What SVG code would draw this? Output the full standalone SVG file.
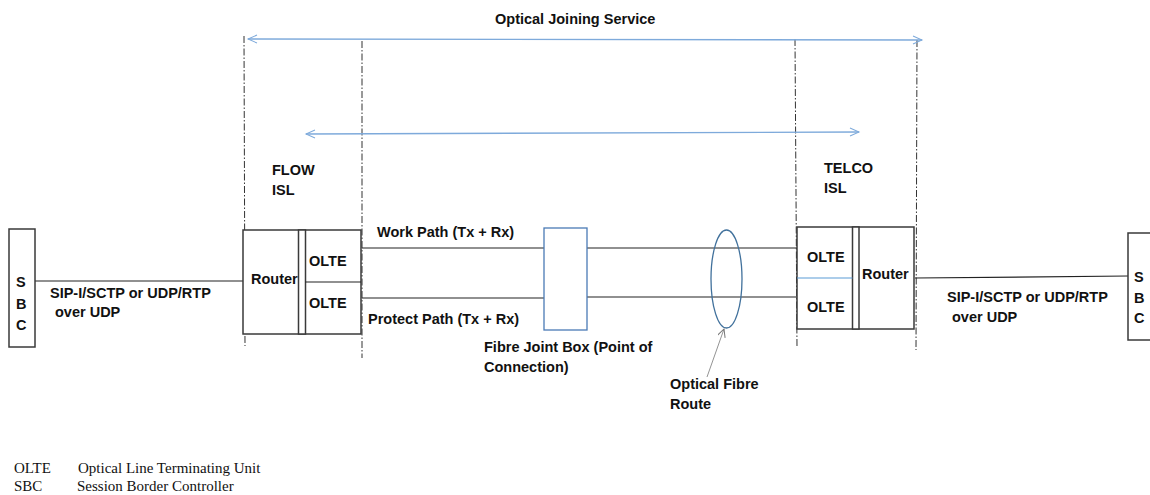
<svg xmlns="http://www.w3.org/2000/svg" width="1150" height="495" viewBox="0 0 1150 495">
<style>
.t{font-family:"Liberation Sans",Arial,sans-serif;font-weight:bold;font-size:14.5px;fill:#111}
.lg{font-family:"Liberation Serif","Times New Roman",serif;font-size:15px;fill:#111}
.box{fill:#fff;stroke:#3a3a3a;stroke-width:1.5}
.ln{stroke:#222;stroke-width:1.2;fill:none}
.dd{stroke:#333;stroke-width:1;stroke-dasharray:7,2,1.5,2;fill:none}
.blue{stroke:#7eaadb;stroke-width:1.3;fill:none}
</style>
<defs>
<marker id="ob" markerWidth="12" markerHeight="12" refX="10" refY="5" orient="auto-start-reverse" markerUnits="userSpaceOnUse">
<polyline points="1,1 10,5 1,9" fill="none" stroke="#7eaadb" stroke-width="1"/>
</marker>
<marker id="og" markerWidth="10" markerHeight="10" refX="8" refY="4" orient="auto" markerUnits="userSpaceOnUse">
<polyline points="0,0 8,4 0,8" fill="none" stroke="#777" stroke-width="1"/>
</marker>
</defs>

<text class="t" x="495" y="24">Optical Joining Service</text>

<g id="boundaries">
<line class="dd" x1="244" y1="36" x2="245" y2="346"/>
<line class="dd" x1="362" y1="41" x2="362" y2="358"/>
<line class="dd" x1="795" y1="39" x2="797" y2="348"/>
<line class="dd" x1="917" y1="40" x2="916" y2="350"/>
</g>

<g id="connectors">
<line class="blue" x1="248" y1="39" x2="922" y2="40" marker-start="url(#ob)" marker-end="url(#ob)"/>
<line class="blue" x1="306" y1="134" x2="859" y2="132" marker-start="url(#ob)" marker-end="url(#ob)"/>
<line class="ln" x1="35" y1="281" x2="243" y2="281"/>
<line class="ln" x1="915" y1="278" x2="1128" y2="276"/>
<line class="ln" x1="362" y1="248" x2="544" y2="248"/>
<line class="ln" x1="587" y1="248" x2="806" y2="248"/>
<line class="ln" x1="362" y1="298" x2="544" y2="298"/>
<line class="ln" x1="587" y1="297" x2="800" y2="297"/>
<line x1="707" y1="377" x2="724" y2="329" stroke="#777" stroke-width="0.8" marker-end="url(#og)"/>
</g>

<g id="sbc-left">
<rect class="box" x="9" y="229" width="26" height="118"/>
<text class="t" x="16" y="287">S</text>
<text class="t" x="16" y="309">B</text>
<text class="t" x="16" y="330">C</text>
</g>

<g id="flow-isl">
<text class="t" x="272" y="175">FLOW</text>
<text class="t" x="272" y="195">ISL</text>
<rect class="box" x="243" y="230" width="118" height="104" fill="none"/>
<rect class="box" x="298.5" y="230" width="7" height="104"/>
<line class="ln" x1="305.5" y1="282" x2="361" y2="282"/>
<text class="t" x="251" y="284">Router</text>
<text class="t" x="309" y="266">OLTE</text>
<text class="t" x="309" y="308">OLTE</text>
</g>

<text class="t" x="50" y="298">SIP-I/SCTP or UDP/RTP</text>
<text class="t" x="55" y="317">over UDP</text>

<text class="t" x="377" y="237">Work Path (Tx + Rx)</text>
<text class="t" x="368" y="324">Protect Path (Tx + Rx)</text>

<g id="joint-box">
<rect x="544" y="228" width="43" height="102" fill="#fff" stroke="#4a7ab5" stroke-width="1.3"/>
<text class="t" x="484" y="352">Fibre Joint Box (Point of</text>
<text class="t" x="484" y="372">Connection)</text>
</g>

<g id="fibre-route">
<ellipse cx="726.5" cy="279" rx="15.5" ry="49" fill="none" stroke="#41719c" stroke-width="1.3"/>
<text class="t" x="670" y="389">Optical Fibre</text>
<text class="t" x="670" y="409">Route</text>
</g>

<g id="telco-isl">
<text class="t" x="824" y="173">TELCO</text>
<text class="t" x="824" y="193">ISL</text>
<rect class="box" x="797" y="227" width="117" height="102" fill="none"/>
<rect class="box" x="852.5" y="227" width="6.5" height="102"/>
<line x1="797" y1="278" x2="852.5" y2="278" stroke="#5b9bd5" stroke-width="1.2"/>
<text class="t" x="807" y="262">OLTE</text>
<text class="t" x="807" y="312">OLTE</text>
<text class="t" x="862" y="279">Router</text>
</g>

<text class="t" x="947" y="302">SIP-I/SCTP or UDP/RTP</text>
<text class="t" x="952" y="322">over UDP</text>

<g id="sbc-right">
<rect class="box" x="1128" y="233" width="30" height="107"/>
<text class="t" x="1134" y="282">S</text>
<text class="t" x="1134" y="303">B</text>
<text class="t" x="1134" y="323">C</text>
</g>

<g id="legend">
<text class="lg" x="14" y="473">OLTE</text>
<text class="lg" x="78" y="473">Optical Line Terminating Unit</text>
<text class="lg" x="14" y="491">SBC</text>
<text class="lg" x="77" y="491">Session Border Controller</text>
</g>
</svg>
